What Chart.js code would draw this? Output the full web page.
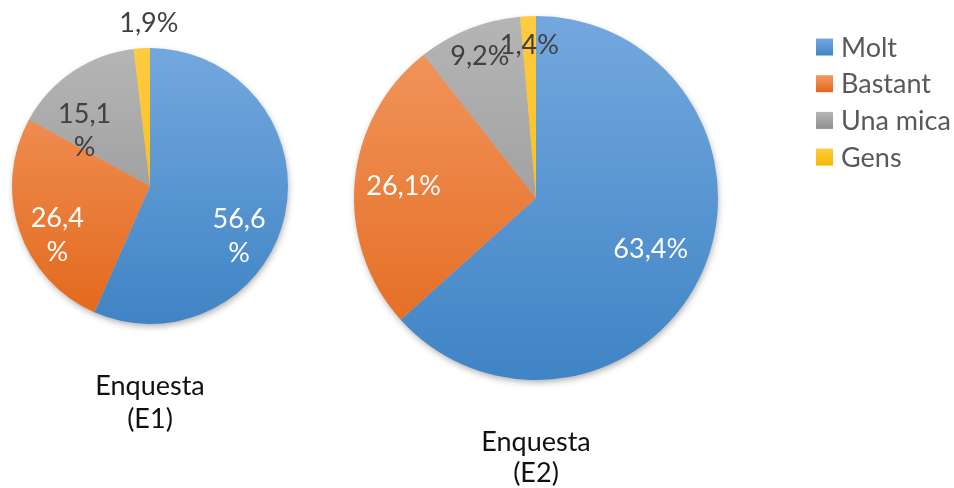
<!DOCTYPE html>
<html>
<head>
<meta charset="utf-8">
<script src="https://cdn.jsdelivr.net/npm/chart.js@4"></script>
<style>
  body { margin: 0; background: #fff; width: 954px; height: 488px; overflow: hidden; position: relative; }
  canvas { position: absolute; top: 0; }
  #c1 { left: 0; }
  #c2 { left: 340px; }
</style>
</head>
<body>
<canvas id="c1" width="340" height="488"></canvas>
<canvas id="c2" width="614" height="488"></canvas>
<script>
// ---------------------------------------------------------------------------
const categories = ["Molt", "Bastant", "Una mica", "Gens"];
const e1Values = [56.6, 26.4, 15.1, 1.9];
const e2Values = [63.4, 26.1, 9.2, 1.4];
const e1Caption = ["Enquesta", "(E1)"];
const e2Caption = ["Enquesta", "(E2)"];
// ---------------------------------------------------------------------------
const gradTop = ["#73a8de", "#f29962", "#b5b5b5", "#ffcb40"];
const gradBottom = ["#3f84c5", "#e3671a", "#8f8f8f", "#f3b900"];
const labelColors = ["#ffffff", "#ffffff", "#404040", "#404040"];
const FONT = 'Lato, "Open Sans", sans-serif';

function fmt(v) {
  return v.toFixed(1).replace(".", ",") + "%";
}

function sliceFill(context) {
  const chart = context.chart;
  const area = chart.chartArea;
  if (!area) return gradBottom[context.dataIndex];
  const g = chart.ctx.createLinearGradient(0, area.top, 0, area.bottom);
  g.addColorStop(0, gradTop[context.dataIndex]);
  g.addColorStop(1, gradBottom[context.dataIndex]);
  return g;
}

// shadow under the pie, labels, captions
const piePlugin = {
  id: "pieExtras",
  beforeDatasetsDraw(chart) {
    const arc = chart.getDatasetMeta(0).data[0];
    const c = chart.ctx;
    c.save();
    c.shadowColor = "rgba(0,0,0,0.35)";
    c.shadowBlur = 7;
    c.shadowOffsetX = 1;
    c.shadowOffsetY = 3;
    c.beginPath();
    c.arc(arc.x, arc.y, arc.outerRadius - 1, 0, Math.PI * 2);
    c.fillStyle = "#bbbbbb";
    c.fill();
    c.restore();
  },
  afterDatasetsDraw(chart, args, opts) {
    const c = chart.ctx;
    const meta = chart.getDatasetMeta(0);
    const values = chart.data.datasets[0].data;
    c.save();
    c.font = opts.labelSize + "px " + FONT;
    c.textAlign = "center";
    c.textBaseline = "middle";
    meta.data.forEach((arc, i) => {
      const mid = (arc.startAngle + arc.endAngle) / 2 + opts.shift[i] * Math.PI / 180;
      const r = arc.outerRadius * opts.frac[i];
      const x = arc.x + Math.cos(mid) * r;
      const y = arc.y + Math.sin(mid) * r;
      let lines = [fmt(values[i])];
      if (opts.wrap[i]) lines = [fmt(values[i]).slice(0, -1), "%"];
      c.fillStyle = labelColors[i];
      const lh = opts.labelSize * 1.25;
      lines.forEach((t, k) => {
        c.fillText(t, x, y + (k - (lines.length - 1) / 2) * lh);
      });
    });
    // caption under the pie
    const arc = meta.data[0];
    c.fillStyle = "#111111";
    c.font = opts.captionSize + "px " + FONT;
    opts.caption.forEach((t, k) => {
      c.fillText(t, arc.x, arc.y + arc.outerRadius + 62 + k * opts.captionGap);
    });
    // legend
    if (opts.legend) {
      const lg = opts.legend;
      c.font = lg.size + "px " + FONT;
      c.textAlign = "left";
      chart.data.labels.forEach((lab, i) => {
        const cy = lg.y + i * lg.step;
        const g = c.createLinearGradient(0, cy - lg.box / 2, 0, cy + lg.box / 2);
        g.addColorStop(0, gradTop[i]);
        g.addColorStop(1, gradBottom[i]);
        c.fillStyle = g;
        c.fillRect(lg.x, cy - lg.box / 2, lg.box, lg.box);
        c.fillStyle = "#595959";
        c.fillText(lab, lg.x + lg.box + 8, cy + 1);
      });
    }
    c.restore();
  }
};

function makePie(id, values, padding, extras) {
  return new Chart(document.getElementById(id), {
    type: "pie",
    data: {
      labels: categories,
      datasets: [{
        data: values,
        backgroundColor: sliceFill,
        borderWidth: 0
      }]
    },
    options: {
      responsive: false,
      animation: false,
      layout: { padding: padding },
      plugins: {
        legend: { display: false },
        tooltip: { enabled: false },
        pieExtras: extras
      }
    },
    plugins: [piePlugin]
  });
}

makePie("c1", e1Values, { left: 12, right: 52, top: 48, bottom: 164 }, {
  labelSize: 27,
  captionSize: 27,
  captionGap: 33,
  caption: e1Caption,
  wrap: [true, true, true, false],
  shift: [17.4, -9.1, -15.8, 3],
  frac: [0.74, 0.76, 0.62, 1.18]
});

makePie("c2", e2Values, { left: 14, right: 236, top: 16, bottom: 108 }, {
  labelSize: 27,
  captionSize: 27,
  captionGap: 31,
  caption: e2Caption,
  wrap: [false, false, false, false],
  shift: [0, 0, 0, 0],
  frac: [0.69, 0.73, 0.84, 0.84],
  legend: { x: 476, y: 47, step: 36.7, box: 17, size: 27 }
});
</script>
</body>
</html>
